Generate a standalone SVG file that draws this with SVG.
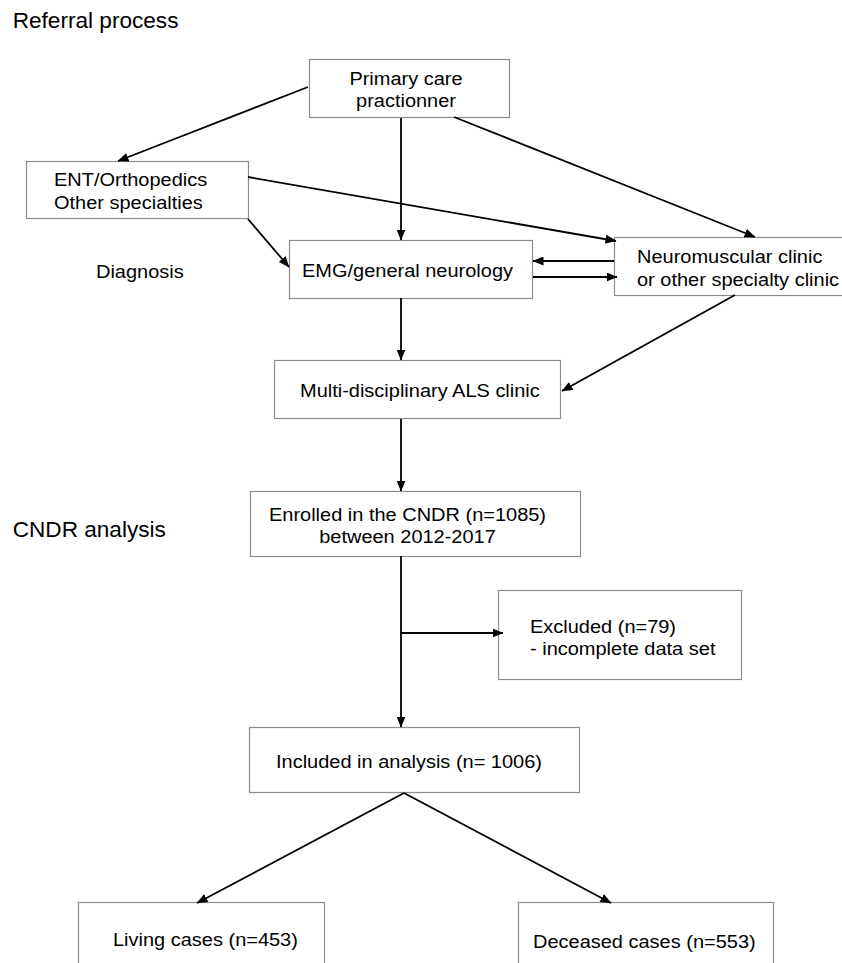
<svg xmlns="http://www.w3.org/2000/svg" width="842" height="963" viewBox="0 0 842 963">
<style>
.box{fill:#fff;stroke:#8c8c8c;stroke-width:1.2}
.t{font-family:"Liberation Sans",Arial,sans-serif;font-size:18.5px;fill:#000}
.h{font-family:"Liberation Sans",Arial,sans-serif;font-size:22.6px;fill:#000}
.m{text-anchor:middle}
.c{stroke:#000;stroke-width:1.8;fill:none;marker-end:url(#ah)}
</style>
<defs>
<marker id="ah" markerUnits="userSpaceOnUse" markerWidth="11" markerHeight="9" refX="10.5" refY="4.5" orient="auto">
<path d="M0,0 L11,4.5 L0,9 z" fill="#000"/>
</marker>
</defs>
<rect width="842" height="963" fill="#fff"/>
<text class="h" x="12.7" y="28">Referral process</text>
<text class="h" x="12.7" y="537">CNDR analysis</text>
<text class="t" transform="translate(96 278) scale(1.08 1)">Diagnosis</text>

<g id="primary">
<rect class="box" x="309.5" y="59.5" width="200" height="58"/>
<text class="t m" transform="translate(406 85) scale(1.08 1)">Primary care</text>
<text class="t m" transform="translate(406 107) scale(1.08 1)">practionner</text>
</g>
<g id="ent">
<rect class="box" x="26.5" y="161.5" width="222" height="57"/>
<text class="t" transform="translate(54 186) scale(1.08 1)">ENT/Orthopedics</text>
<text class="t" transform="translate(54 209) scale(1.08 1)">Other specialties</text>
</g>
<g id="emg">
<rect class="box" x="289.5" y="240.5" width="243" height="58"/>
<text class="t" transform="translate(302 277) scale(1.08 1)">EMG/general neurology</text>
</g>
<g id="neuro">
<rect class="box" x="614.5" y="237.5" width="240" height="58"/>
<text class="t" transform="translate(637 263) scale(1.08 1)">Neuromuscular clinic</text>
<text class="t" transform="translate(637 286) scale(1.08 1)">or other specialty clinic</text>
</g>
<g id="als">
<rect class="box" x="274.5" y="360.5" width="286" height="58"/>
<text class="t" transform="translate(300 397) scale(1.08 1)">Multi-disciplinary ALS clinic</text>
</g>
<g id="enrolled">
<rect class="box" x="250.5" y="491.5" width="330" height="65"/>
<text class="t m" transform="translate(407.5 521) scale(1.08 1)">Enrolled in the CNDR (n=1085)</text>
<text class="t m" transform="translate(407.5 543) scale(1.08 1)">between 2012-2017</text>
</g>
<g id="excluded">
<rect class="box" x="498.5" y="590.5" width="243" height="89"/>
<text class="t" transform="translate(530 633) scale(1.08 1)">Excluded (n=79)</text>
<text class="t" transform="translate(530 655) scale(1.08 1)">- incomplete data set</text>
</g>
<g id="included">
<rect class="box" x="249.5" y="727.5" width="330" height="65"/>
<text class="t" transform="translate(276 768) scale(1.08 1)">Included in analysis (n= 1006)</text>
</g>
<g id="living">
<rect class="box" x="78.5" y="902.5" width="246" height="80"/>
<text class="t" transform="translate(113 946) scale(1.08 1)">Living cases (n=453)</text>
</g>
<g id="deceased">
<rect class="box" x="518.5" y="902.5" width="255" height="80"/>
<text class="t" transform="translate(533 948) scale(1.08 1)">Deceased cases (n=553)</text>
</g>

<g id="connectors">
<line class="c" x1="308" y1="87" x2="118" y2="161"/>
<line class="c" x1="401" y1="118" x2="401" y2="240"/>
<line class="c" x1="454" y1="117" x2="755" y2="237"/>
<line class="c" x1="248" y1="177" x2="616" y2="241"/>
<line class="c" x1="248" y1="219" x2="289" y2="267"/>
<line class="c" x1="614" y1="261" x2="533" y2="261"/>
<line class="c" x1="533" y1="277" x2="617" y2="277"/>
<line class="c" x1="401" y1="298" x2="401" y2="360"/>
<line class="c" x1="735" y1="295" x2="562" y2="391"/>
<line class="c" x1="401" y1="419" x2="401" y2="491"/>
<line class="c" x1="401" y1="556" x2="401" y2="727"/>
<line class="c" x1="401" y1="633" x2="503" y2="633"/>
<line class="c" x1="404" y1="793" x2="197" y2="903"/>
<line class="c" x1="404" y1="793" x2="611" y2="903"/>
</g>
</svg>
